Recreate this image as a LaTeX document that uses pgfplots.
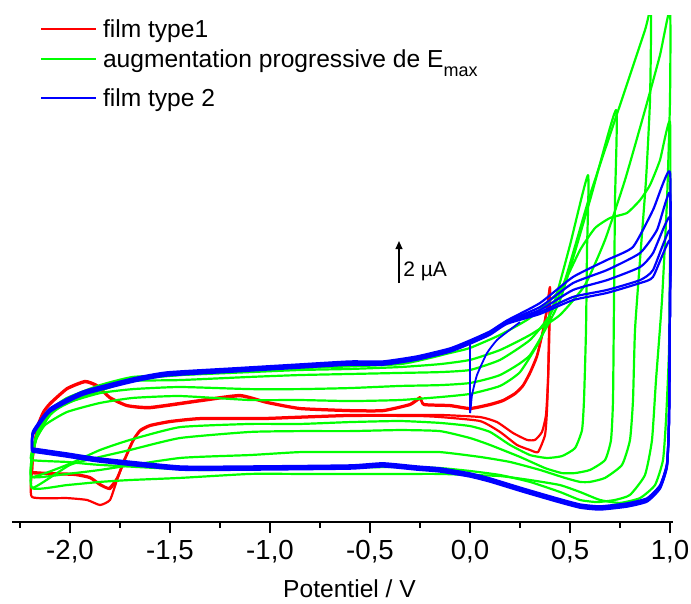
\documentclass[border=0pt]{standalone}
\usepackage{pgfplots}
\pgfplotsset{compat=1.18}
\usepackage{fontspec}
\setmainfont{Liberation Sans}
\usetikzlibrary{arrows.meta}
\definecolor{cvred}{RGB}{255,0,0}
\definecolor{cvgreen}{RGB}{0,255,0}
\definecolor{cvblue}{RGB}{0,0,255}
\begin{document}
\begin{tikzpicture}
\useasboundingbox (0,0) rectangle (345.5pt,302pt);
\begin{axis}[
  at={(6pt,41pt)}, anchor=south west,
  scale only axis, width=330.5pt, height=253pt,
  xmin=-2.29, xmax=1.015, ymin=0.381, ymax=24.48,
  axis y line=none, axis x line=bottom,
  x axis line style={-, line width=0.9pt},
  ytick=\empty,
  xtick={-2,-1.5,-1,-0.5,0,0.5,1},
  xticklabels={{-2,0},{-1,5},{-1,0},{-0,5},{0,0},{0,5},{1,0}},
  minor xtick={-2.25,-1.75,-1.25,-0.75,-0.25,0.25,0.75},
  tick align=outside, major tick length=5.5pt, minor tick length=3pt,
  tick style={black, line width=0.9pt},
  xticklabel style={font=\fontsize{13.8}{16}\selectfont, anchor=base, yshift=-13.3pt},
  xlabel={Potentiel / V},
  xlabel style={font=\fontsize{12.3}{15}\selectfont, at={(axis description cs:0.5,0)}, anchor=base, yshift=-38pt, xshift=3.5pt},
  legend cell align=left,
  legend style={at={(0.0424,0.992)}, anchor=north west, draw=none, fill=none,
    inner sep=0pt, outer sep=0pt, row sep=6pt,
    font=\fontsize{12.3}{14.8}\selectfont,
    nodes={inner sep=0pt, text depth=0pt},
    cells={anchor=base west},
    /tikz/every odd column/.append style={column sep=0pt},
    /tikz/every even column/.append style={column sep=0pt}},
  legend image code/.code={\draw[#1, line width=1pt] (0pt,4.5pt) -- (27.5pt,4.5pt); \path[draw=none] (0pt,4.5pt) -- (31pt,4.5pt);},
  every axis plot/.append style={line width=1.1pt, line join=round, smooth, tension=0.3},
]
% ---------------- red : film type 1 ----------------
\addplot[cvred] coordinates {
(-2.19,2.76) (-2.185,3.57) (-2.165,4.90) (-2.135,5.62) (-2.10,6.05) (-2.015,6.76) (-1.925,7.10) (-1.865,6.90) (-1.80,6.33) (-1.715,5.95) (-1.60,5.86) (-1.35,6.19) (-1.15,6.43) (-1.015,6.10) (-0.85,5.81) (-0.60,5.71) (-0.435,5.71) (-0.30,6.0) (-0.25,6.33) (-0.23,6.0) (-0.10,5.95) (0.0,5.81) (0.10,6.0) (0.165,6.19) (0.225,6.52) (0.265,6.90) (0.30,7.52) (0.335,8.33) (0.365,9.52) (0.385,10.57) (0.40,11.57) (0.395,9.52) (0.39,7.14) (0.38,5.48) (0.36,4.67) (0.325,4.29) (0.285,4.29) (0.215,4.62) (0.135,5.14) (0.05,5.38) (-0.15,5.48) (-0.265,5.48) (-0.60,5.48) (-0.90,5.38) (-1.05,5.33) (-1.35,5.33) (-1.50,5.19) (-1.60,5.0) (-1.65,4.76) (-1.685,4.29) (-1.725,3.43) (-1.765,2.48) (-1.805,2.0) (-1.85,2.19) (-1.90,2.52) (-1.975,2.67) (-2.10,2.71) (-2.19,2.76)
};
\addlegendentry{film type1}
\addplot[cvred, forget plot] coordinates {
(-2.19,2.70) (-2.185,3.5) (-2.165,4.8) (-2.135,5.55) (-2.10,5.98) (-2.015,6.70) (-1.925,7.04) (-1.865,6.84) (-1.80,6.27) (-1.715,5.90) (-1.60,5.80) (-1.35,6.13) (-1.15,6.37) (-1.015,6.05) (-0.85,5.76) (-0.60,5.66) (-0.435,5.66) (-0.30,5.95) (-0.25,6.25) (-0.23,5.95) (-0.10,5.90) (0.0,5.76) (0.10,5.95) (0.165,6.14) (0.225,6.47) (0.265,6.85) (0.30,7.45) (0.335,8.25) (0.365,9.45) (0.385,10.5) (0.40,11.5) (0.395,8.57) (0.385,5.71) (0.375,4.52) (0.34,3.71) (0.30,3.81) (0.235,4.05) (0.15,4.67) (0.05,5.19) (-0.15,5.38) (-0.265,5.43) (-0.60,5.43) (-0.90,5.33) (-1.05,5.28) (-1.35,5.28) (-1.50,5.14) (-1.60,4.95) (-1.65,4.70) (-1.685,4.22) (-1.725,3.36) (-1.765,2.42) (-1.80,1.95) (-1.85,2.14) (-1.90,2.47) (-1.975,2.62) (-2.10,2.66) (-2.19,2.70)
};
\addplot[cvred, forget plot] coordinates {
(-1.725,3.43) (-1.765,2.38) (-1.80,1.43) (-1.85,1.19) (-1.915,1.43) (-2.015,1.52) (-2.19,1.57) (-2.19,2.76)
};
% ---------------- green : increasing Emax ----------------
\addplot[cvgreen] coordinates {
(-2.19,3.33) (-2.17,4.29) (-2.125,5.0) (-2.015,5.62) (-1.85,6.05) (-1.685,6.29) (-1.45,6.38) (-1.10,6.19) (-0.85,6.19) (-0.60,6.14) (-0.35,6.19) (-0.15,6.33) (0.0,6.48) (0.15,6.86) (0.25,7.52) (0.35,9.05) (0.425,10.95) (0.50,13.57) (0.59,16.90) (0.585,13.33) (0.58,9.52) (0.57,6.19) (0.56,4.76) (0.525,3.90) (0.46,3.52) (0.385,3.43) (0.30,3.57) (0.20,4.05) (0.10,4.67) (0.0,4.95) (-0.15,5.10) (-0.35,5.19) (-0.60,5.14) (-0.85,5.05) (-1.10,5.05) (-1.45,4.90) (-1.70,4.29) (-1.85,3.81) (-2.015,3.10) (-2.19,2.52) (-2.19,3.33)
};
\addlegendentry{augmentation progressive de E\raisebox{-4.5pt}{\fontsize{9}{9}\selectfont max}}
\addplot[cvgreen, forget plot] coordinates {
(-2.19,3.48) (-2.165,4.43) (-2.10,5.48) (-2.015,6.05) (-1.85,6.52) (-1.685,6.71) (-1.45,6.81) (-1.10,6.71) (-0.85,6.71) (-0.60,6.76) (-0.35,6.86) (-0.15,6.90) (0.0,7.0) (0.15,7.38) (0.30,8.33) (0.45,10.95) (0.60,15.71) (0.73,20.0) (0.725,15.71) (0.72,10.95) (0.715,6.19) (0.705,4.29) (0.675,3.33) (0.60,2.86) (0.525,2.71) (0.46,2.71) (0.375,2.95) (0.25,3.48) (0.10,4.05) (0.0,4.38) (-0.15,4.71) (-0.35,4.76) (-0.60,4.71) (-0.85,4.71) (-1.10,4.67) (-1.45,4.38) (-1.70,3.81) (-1.85,3.48) (-2.0,3.10) (-2.19,2.0) (-2.19,3.48)
};
\addplot[cvgreen, forget plot] coordinates {
(-2.19,3.57) (-2.16,4.67) (-2.10,5.62) (-2.015,6.19) (-1.85,6.81) (-1.685,7.10) (-1.45,7.14) (-1.10,7.29) (-0.85,7.38) (-0.60,7.43) (-0.35,7.48) (-0.15,7.52) (0.0,7.62) (0.15,8.10) (0.30,9.05) (0.40,10.24) (0.475,11.90) (0.60,15.95) (0.75,20.24) (0.875,23.81) (0.905,24.76) (0.90,20.48) (0.88,16.67) (0.85,12.86) (0.825,9.52) (0.815,6.19) (0.80,4.29) (0.76,3.10) (0.675,2.48) (0.60,2.29) (0.55,2.29) (0.475,2.48) (0.35,2.86) (0.20,3.24) (0.05,3.48) (-0.15,3.71) (-0.35,3.71) (-0.60,3.71) (-0.85,3.71) (-1.10,3.57) (-1.45,3.43) (-1.85,2.86) (-2.015,2.67) (-2.19,2.52) (-2.19,3.57)
};
\addplot[cvgreen, forget plot] coordinates {
(-2.19,3.71) (-2.16,4.76) (-2.10,5.71) (-2.015,6.29) (-1.85,6.90) (-1.685,7.29) (-1.45,7.38) (-1.10,7.52) (-0.85,7.62) (-0.60,7.67) (-0.35,7.76) (-0.15,7.90) (0.0,8.10) (0.15,8.57) (0.30,9.29) (0.45,10.24) (0.575,11.67) (0.675,13.81) (0.775,16.67) (0.875,20.0) (0.95,22.62) (1.0,24.76) (1.0,20.48) (0.985,15.71) (0.96,10.95) (0.93,7.14) (0.91,4.29) (0.875,2.62) (0.80,1.67) (0.725,1.43) (0.635,1.33) (0.55,1.43) (0.45,1.81) (0.30,2.29) (0.15,2.62) (0.0,2.81) (-0.15,2.95) (-0.35,3.0) (-0.85,2.95) (-1.35,2.86) (-1.85,3.10) (-2.015,3.24) (-2.19,3.33) (-2.19,3.71)
};
\addplot[cvgreen, forget plot] coordinates {
(-2.19,3.81) (-2.15,4.86) (-2.075,5.71) (-1.95,6.29) (-1.685,7.14) (-1.45,7.38) (-1.10,7.62) (-0.85,7.71) (-0.35,7.90) (-0.10,8.43) (0.0,8.67) (0.15,9.29) (0.30,10.10) (0.45,11.43) (0.55,13.33) (0.625,14.38) (0.70,14.86) (0.785,15.10) (0.85,15.71) (0.90,16.43) (0.95,17.62) (1.0,19.43) (1.0,13.33) (0.995,8.57) (0.98,5.24) (0.965,3.33) (0.925,2.14) (0.85,1.52) (0.75,1.29) (0.65,1.43) (0.55,1.81) (0.45,2.14) (0.30,2.38) (0.15,2.57) (0.0,2.62) (-0.15,2.67) (-0.35,2.67) (-0.85,2.67) (-1.10,2.67) (-1.45,2.48) (-1.70,2.38) (-1.85,2.29) (-2.015,2.14) (-2.19,2.0) (-2.19,3.81)
};
% ---------------- blue : film type 2 ----------------
\addplot[cvblue] coordinates {
(-2.19,3.89) (-2.185,4.70) (-2.10,5.79) (-1.935,6.60) (-1.685,7.22) (-1.515,7.51) (-1.185,7.70) (-0.85,7.89) (-0.60,8.03) (-0.435,8.03) (-0.265,8.27) (-0.10,8.65) (0.0,9.03) (0.10,9.46) (0.185,9.98) (0.35,10.81) (0.515,12.05) (0.685,12.86) (0.815,13.48) (0.915,15.24) (1.0,17.05)
(1.0,10.95) (0.995,5.32) (0.985,3.18) (0.95,2.13) (0.885,1.51) (0.785,1.27) (0.65,1.13) (0.55,1.22) (0.435,1.51) (0.265,1.98) (0.10,2.46) (0.0,2.70) (-0.15,2.94) (-0.265,3.03) (-0.435,3.18) (-0.60,3.08) (-1.10,3.03) (-1.45,3.03) (-1.85,3.41) (-2.015,3.65) (-2.19,3.89)
};
\addlegendentry{film type 2\rule{0pt}{13.5pt}}
\addplot[cvblue, forget plot] coordinates {
(-2.19,3.85) (-2.185,4.66) (-2.10,5.75) (-1.935,6.56) (-1.685,7.18) (-1.515,7.47) (-1.185,7.66) (-0.85,7.85) (-0.60,7.99) (-0.435,7.99) (-0.265,8.23) (-0.10,8.61) (0.0,8.99) (0.10,9.42) (0.185,9.94) (0.35,10.62) (0.515,11.76) (0.685,12.38) (0.85,13.19) (0.935,14.29) (1.0,16.05)
(1.0,10.95) (0.995,5.28) (0.985,3.14) (0.95,2.09) (0.885,1.47) (0.785,1.23) (0.65,1.09) (0.55,1.18) (0.435,1.47) (0.265,1.94) (0.10,2.42) (0.0,2.66) (-0.15,2.90) (-0.265,2.99) (-0.435,3.14) (-0.60,3.04) (-1.10,2.99) (-1.45,2.99) (-1.85,3.37) (-2.015,3.61) (-2.19,3.85)
};
\addplot[cvblue, forget plot] coordinates {
(-2.19,3.81) (-2.185,4.62) (-2.10,5.71) (-1.935,6.52) (-1.685,7.14) (-1.515,7.43) (-1.185,7.62) (-0.85,7.81) (-0.60,7.95) (-0.435,7.95) (-0.265,8.19) (-0.10,8.57) (0.0,8.95) (0.10,9.38) (0.185,9.90) (0.35,10.48) (0.515,11.43) (0.685,11.90) (0.85,12.52) (0.915,13.19) (1.0,14.90)
(1.0,10.95) (0.995,5.24) (0.985,3.10) (0.95,2.05) (0.885,1.43) (0.785,1.19) (0.65,1.05) (0.55,1.14) (0.435,1.43) (0.265,1.90) (0.10,2.38) (0.0,2.62) (-0.15,2.86) (-0.265,2.95) (-0.435,3.10) (-0.60,3.0) (-1.10,2.95) (-1.45,2.95) (-1.85,3.33) (-2.015,3.57) (-2.19,3.81)
};
\addplot[cvblue, forget plot] coordinates {
(-2.19,3.77) (-2.185,4.58) (-2.10,5.67) (-1.935,6.48) (-1.685,7.10) (-1.515,7.39) (-1.185,7.58) (-0.85,7.77) (-0.60,7.91) (-0.435,7.91) (-0.265,8.15) (-0.10,8.53) (0.0,8.91) (0.10,9.34) (0.185,9.86) (0.35,10.38) (0.515,11.10) (0.685,11.43) (0.85,11.90) (0.915,12.38) (1.0,14.29)
(1.0,10.95) (0.995,5.20) (0.985,3.06) (0.95,2.01) (0.885,1.39) (0.785,1.15) (0.65,1.01) (0.55,1.10) (0.435,1.39) (0.265,1.86) (0.10,2.34) (0.0,2.58) (-0.15,2.82) (-0.265,2.91) (-0.435,3.06) (-0.60,2.96) (-1.10,2.91) (-1.45,2.91) (-1.85,3.29) (-2.015,3.53) (-2.19,3.77)
};
\addplot[cvblue, forget plot] coordinates {
(-2.19,3.73) (-2.185,4.54) (-2.10,5.63) (-1.935,6.44) (-1.685,7.06) (-1.515,7.35) (-1.185,7.54) (-0.85,7.73) (-0.60,7.87) (-0.435,7.87) (-0.265,8.11) (-0.10,8.49) (0.0,8.87) (0.10,9.30) (0.185,9.82) (0.35,10.29) (0.515,10.95) (0.685,11.29) (0.85,11.76) (0.915,12.05) (1.0,13.81)
(1.0,10.95) (0.995,5.16) (0.985,3.02) (0.95,1.97) (0.885,1.35) (0.785,1.11) (0.65,0.97) (0.55,1.06) (0.435,1.35) (0.265,1.82) (0.10,2.30) (0.0,2.54) (-0.15,2.78) (-0.265,2.87) (-0.435,3.02) (-0.60,2.92) (-1.10,2.87) (-1.45,2.87) (-1.85,3.25) (-2.015,3.49) (-2.19,3.73)
};
\addplot[cvblue, forget plot, line width=0.9pt] coordinates {
(0.0,8.90) (0.0,5.62) (0.01,6.43) (0.035,7.38) (0.085,8.43) (0.135,9.05) (0.185,9.43) (0.25,9.90)
};
% scale bar
\draw[-{Triangle[length=4pt,width=3.5pt]}, line width=0.6pt] (axis cs:-0.355,11.76) -- (axis cs:-0.355,13.76);
\node[anchor=base west, inner sep=0pt, font=\fontsize{10.5}{12}\selectfont] at (axis cs:-0.335,12.05) {2 µA};
\end{axis}
\end{tikzpicture}
\end{document}
